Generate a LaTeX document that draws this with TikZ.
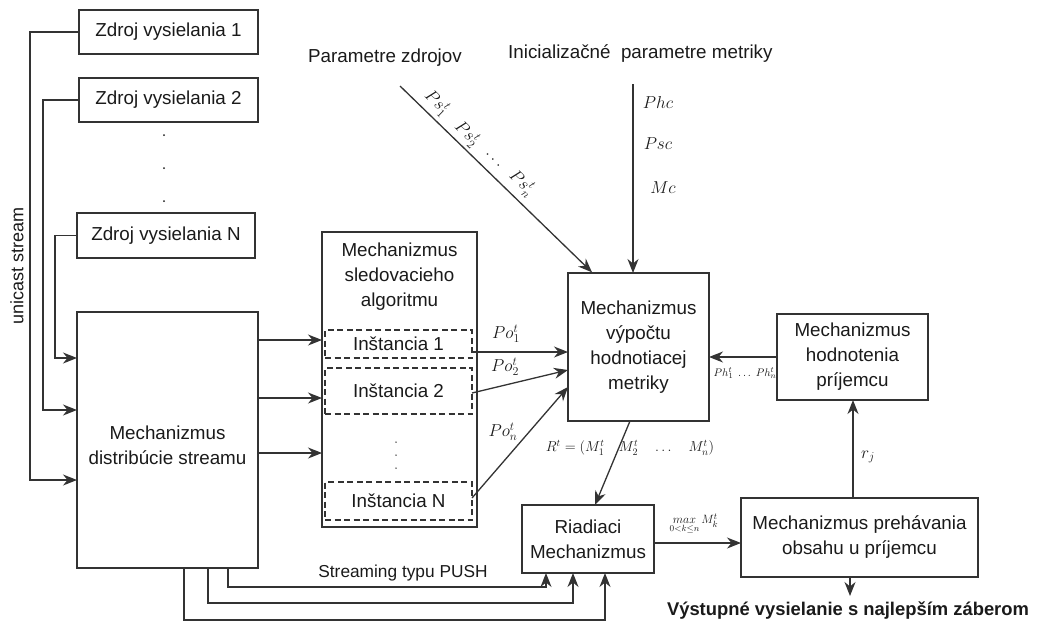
\documentclass[tikz,border=0pt]{standalone}
\usepackage{fontspec}
\setmainfont{Liberation Sans}
\usetikzlibrary{arrows.meta}
\definecolor{ln}{HTML}{333333}
\definecolor{tx}{HTML}{1a1a1a}
\begin{document}
\begin{tikzpicture}[x=1pt,y=-1pt,
  box/.style={draw=ln,line width=1.4pt,inner sep=0pt,outer sep=0pt,align=center,text=tx,font=\fontsize{18.8}{25}\selectfont},
  dbox/.style={box,dash pattern=on 6pt off 3.5pt},
  conn/.style={draw=ln,line width=1.3pt},
  arr/.style={conn,-{Stealth[length=14pt,width=11pt,inset=4.5pt]}},
  lbl/.style={inner sep=0pt,text=tx,align=center,font=\fontsize{18.8}{25}\selectfont},
  ml/.style={inner sep=0pt,text=tx,font=\fontsize{17}{19}\selectfont},
  dotc/.style={fill=tx,circle,inner sep=0pt,minimum size=2pt}]
\useasboundingbox (0,0) rectangle (1044,630);

% sources
\node[box,minimum width=179pt,minimum height=44pt] (z1) at (168.5,32) {Zdroj vysielania 1};
\node[box,minimum width=179pt,minimum height=44pt] (z2) at (168.5,100) {Zdroj vysielania 2};
\node[box,minimum width=178pt,minimum height=45pt] (zN) at (166,235.5) {Zdroj vysielania N};
\node[dotc] (d1) at (164,135) {};
\node[dotc] (d2) at (164,168) {};
\node[dotc] (d3) at (164,201) {};

% distribution
\node[box,minimum width=181pt,minimum height=256pt] (dist) at (167.5,440) {};
\node[lbl] (distt) at (167.5,445) {Mechanizmus\\distribúcie streamu};

% tracking
\node[box,minimum width=155pt,minimum height=295pt] (sled) at (399.5,379.5) {};
\node[lbl] (sledt) at (399.5,277) {Mechanizmus\\sledovacieho\\algoritmu};
\node[dbox,minimum width=147pt,minimum height=28pt] (i1) at (398.5,344) {Inštancia 1};
\node[dbox,minimum width=147pt,minimum height=46pt] (i2) at (398.5,391) {Inštancia 2};
\node[dbox,minimum width=147pt,minimum height=38pt] (iN) at (398.5,501) {Inštancia N};
\node[dotc,minimum size=1.5pt] (e1) at (396,442) {};
\node[dotc,minimum size=1.5pt] (e2) at (396,455) {};
\node[dotc,minimum size=1.5pt] (e3) at (396,468) {};

% metric
\node[box,minimum width=141pt,minimum height=148pt] (met) at (638.5,347) {Mechanizmus\\výpočtu\\hodnotiacej\\metriky};
\node[box,minimum width=151pt,minimum height=86pt] (hod) at (852.5,357) {Mechanizmus\\hodnotenia\\príjemcu};
\node[box,minimum width=132pt,minimum height=68pt] (riad) at (588,539) {Riadiaci\\Mechanizmus};
\node[box,minimum width=237pt,minimum height=79pt] (preh) at (859.5,537.5) {Mechanizmus prehávania\\obsahu u príjemcu};

% top texts
\node[lbl] (pz) at (385,58) {Parametre zdrojov};
\node[lbl,anchor=west] (ip) at (508,54) {Inicializačné\ \ parametre metriky};
\coordinate (psS) at (400,86);
\coordinate (phS) at (633,84);
\node[ml] (phc) at (658,102) {$Phc$};
\node[ml] (psc) at (658,144) {$Psc$};
\node[ml] (mc) at (663,188) {$Mc$};
\node[ml,rotate=-44] (ps1) at (437,103) {$Ps_1^t$};
\node[ml,rotate=-44] (ps2) at (467,134) {$Ps_2^t$};
\node[ml,rotate=-44] (psd) at (493,160) {$\ldots$};
\node[ml,rotate=-44] (psn) at (522,183) {$Ps_n^t$};

\draw[arr] (psS) -- (592,272.3);
\draw[arr] (phS) -- (phS |- met.north);

% unicast
\node[lbl,rotate=90,font=\fontsize{18}{20}\selectfont] (uni) at (17,266) {unicast stream};
\draw[arr] (z1.west) -| (30,480) -- (30,480 -| dist.west);
\draw[arr] (z2.west) -| (43,410) -- (43,410 -| dist.west);
\draw[arr] (zN.west) -| (55,358) -- (55,358 -| dist.west);

% dist -> tracking
\draw[arr] (258,340) -- (258,340 -| sled.west);
\draw[arr] (258,398) -- (258,398 -| sled.west);
\draw[arr] (258,453) -- (258,453 -| sled.west);

% instances -> metric
\draw[arr] (472,352) -- (472,352 -| met.west);
\draw[arr] (472,393) -- (568,370);
\draw[arr] (472,498) -- (568,387);
\node[ml] (po1) at (506,334) {$Po_1^t$};
\node[ml] (po2) at (505,367) {$Po_2^t$};
\node[ml] (pon) at (503,432) {$Po_n^t$};

% hod -> metric
\draw[arr] (hod.west) -- (hod.west -| met.east);
\node[inner sep=0pt,text=tx,font=\fontsize{11}{13}\selectfont] (phl) at (745,373) {$Ph_1^t\;\ldots\;Ph_n^t$};

% metric -> riad
\draw[arr] (630,421) -- (595,505);
\node[inner sep=0pt,text=tx,font=\fontsize{14.5}{16}\selectfont] (rt) at (630,448) {$R^t=(M_1^t\quad M_2^t\quad \ldots\quad M_n^t)$};

% riad -> preh
\draw[arr] (riad.east |- 0,543) -- (preh.west |- 0,543);
\node[inner sep=0pt,text=tx,font=\fontsize{13}{15}\selectfont] (mx) at (694,524) {$\mathop{max}\limits_{0<k\leq n} M_k^t$};

% preh -> hod
\draw[arr] (853,498) -- (853,400);
\node[ml] (rj) at (868,457) {$r_j$};

% output
\draw[arr] (850,577) -- (850,596);
\node[lbl,font=\bfseries\fontsize{18.4}{20}\selectfont] (out) at (848,611) {Výstupné vysielanie s najlepším záberom};

% dist -> riad (push)
\draw[arr] (228,568) -- (228,587) -| (546,573);
\draw[arr] (208,568) -- (208,603) -| (573,573);
\draw[arr] (184,568) -- (184,620) -| (605,573);
\node[lbl,font=\fontsize{17.3}{19}\selectfont] (push) at (403,573) {Streaming typu PUSH};
\end{tikzpicture}
\end{document}
